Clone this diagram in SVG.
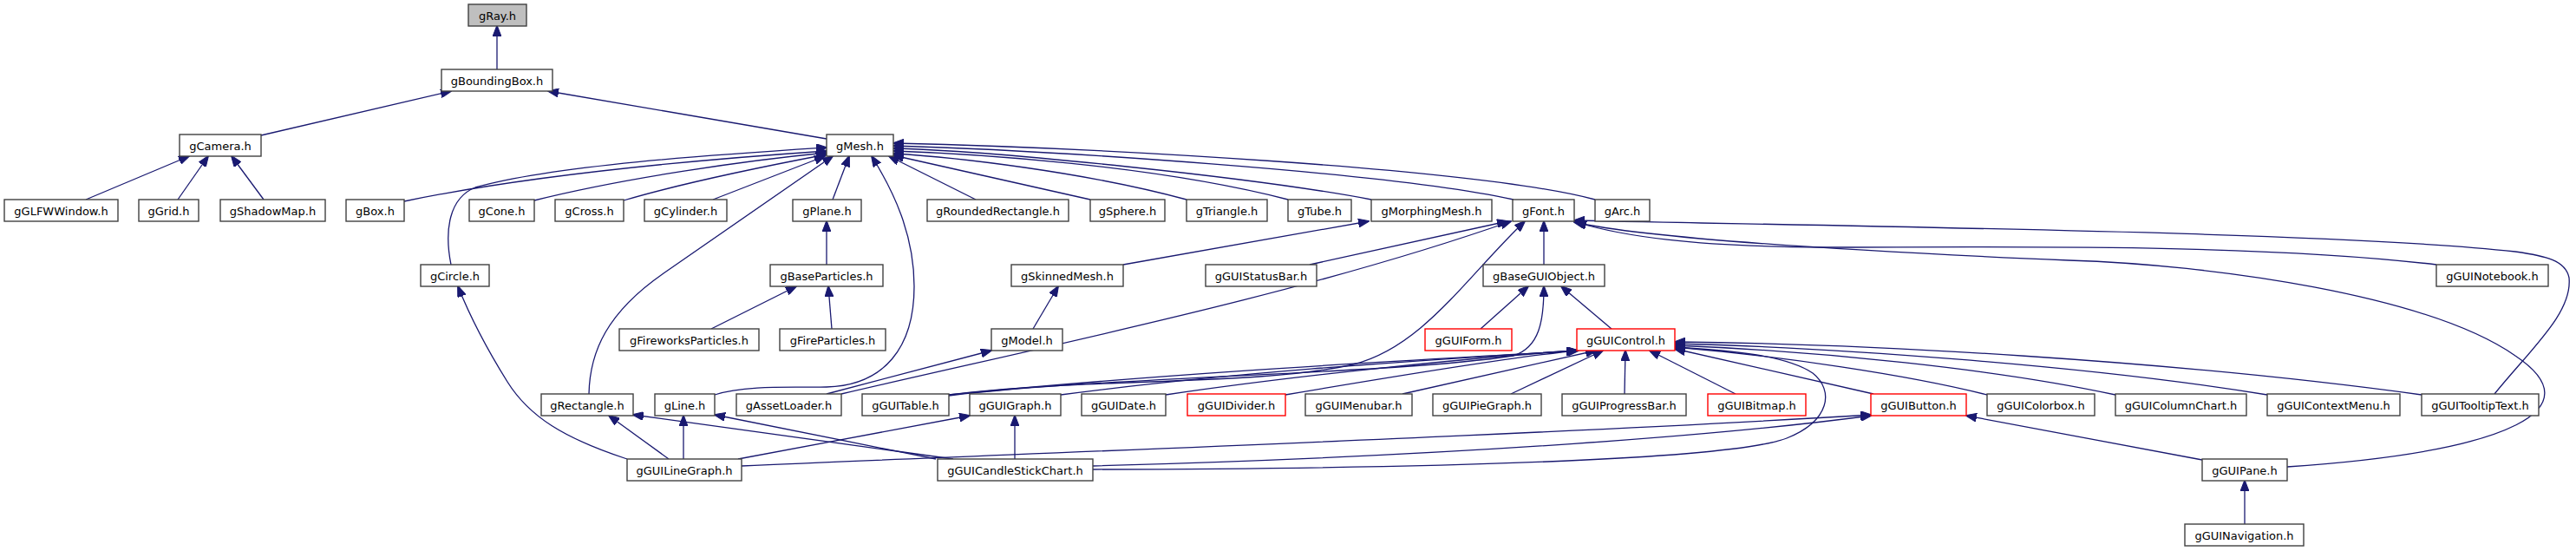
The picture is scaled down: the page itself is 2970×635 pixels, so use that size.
<svg xmlns="http://www.w3.org/2000/svg" width="2970" height="635" viewBox="0 0 2970 635">
<style>
.n rect{fill:#ffffff;stroke:#404040;stroke-width:1.4}
.n.r rect{stroke:#ff0000}
.n.root rect{fill:#bfbfbf}
.n text{font-family:"DejaVu Sans","Liberation Sans",sans-serif;font-size:13px;text-anchor:middle;fill:#000}
#edges path{fill:none;stroke:#191970;stroke-width:1.3;marker-end:url(#ah)}
</style>
<defs>
<marker id="ah" markerWidth="13" markerHeight="10" refX="12" refY="5" orient="auto" markerUnits="userSpaceOnUse">
<path d="M0,0 L13,5 L0,10 z" fill="#191970" stroke="#191970" stroke-width="1"/>
</marker>
</defs>
<rect width="2970" height="635" fill="#ffffff"/>
<g id="edges">
<path d="M573,80 L573,30"/>
<path d="M301,156 L520,105"/>
<path d="M953,160 L632,105"/>
<path d="M99,230 L218,180"/>
<path d="M205,230 L240,180"/>
<path d="M304,230 L267,180"/>
<path d="M466,232 C620,200 820,183 953,174"/>
<path d="M520,305 C512,265 518,228 548,216 C640,190 830,178 953,170"/>
<path d="M616,231 C720,205 860,185 953,176"/>
<path d="M719,231 C790,210 890,190 953,178"/>
<path d="M822,230 L951,180"/>
<path d="M679,454 C680,405 700,360 765,315 L960,180"/>
<path d="M960,230 L979,180"/>
<path d="M824,455 C860,443 920,447 953,446 C1020,444 1054,400 1054,330 C1054,270 1030,220 1005,180"/>
<path d="M1125,230 L1025,180"/>
<path d="M1257,230 L1030,179"/>
<path d="M1368,230 C1250,198 1100,181 1030,177"/>
<path d="M1485,230 C1330,190 1120,177 1030,174"/>
<path d="M1581,230 C1450,205 1150,174 1030,171"/>
<path d="M1745,230 C1600,198 1200,173 1030,168"/>
<path d="M1839,230 C1700,193 1250,170 1030,165"/>
<path d="M953,305 L953,255"/>
<path d="M1295,305 L1578,255"/>
<path d="M1510,305 L1738,255"/>
<path d="M1780,305 L1780,255"/>
<path d="M2809,305 C2600,280 2300,285 2100,285 C1950,284 1870,272 1817,256"/>
<path d="M820,379 L918,330"/>
<path d="M959,379 L955,330"/>
<path d="M1191,379 L1220,330"/>
<path d="M1707,379 L1762,330"/>
<path d="M1858,379 L1800,330"/>
<path d="M953,454 L1143,404"/>
<path d="M970,454 C1200,400 1500,340 1742,255"/>
<path d="M1094,455 C1250,435 1450,445 1560,420 C1640,400 1690,320 1758,255"/>
<path d="M1094,456 C1300,432 1600,432 1745,410 C1775,400 1780,370 1780,330"/>
<path d="M1094,455 C1400,425 1700,412 1818,404"/>
<path d="M1223,455 C1450,425 1700,412 1818,404"/>
<path d="M1344,455 C1500,432 1700,412 1818,404"/>
<path d="M1482,455 C1600,435 1750,410 1820,404"/>
<path d="M1617,454 L1840,404"/>
<path d="M1742,454 L1848,404"/>
<path d="M1873,454 L1874,404"/>
<path d="M2001,454 L1902,404"/>
<path d="M2160,454 L1931,402"/>
<path d="M2291,455 C2200,432 2050,410 1931,400"/>
<path d="M2439,455 C2300,425 2100,405 1931,398"/>
<path d="M2614,455 C2400,420 2100,400 1931,396"/>
<path d="M2792,455 C2500,415 2150,396 1931,394"/>
<path d="M2876,454 C2920,400 2966,360 2962,320 C2958,300 2935,295 2900,290 C2700,268 2200,262 1815,254"/>
<path d="M771,529 L702,479"/>
<path d="M788,529 L788,479"/>
<path d="M851,529 L1118,479"/>
<path d="M723,529 C650,505 610,480 585,440 C560,400 540,360 528,330"/>
<path d="M855,537 C1200,522 1800,500 2157,478"/>
<path d="M1099,529 L730,478"/>
<path d="M1079,529 L824,478"/>
<path d="M1170,529 L1170,479"/>
<path d="M1260,537 C1700,525 2000,500 2157,479"/>
<path d="M1260,541 C1700,540 2000,528 2060,505 C2110,485 2115,450 2090,430 C2060,410 2000,404 1931,400"/>
<path d="M2539,530 L2267,479"/>
<path d="M2637,538 C2900,520 2990,470 2900,410 C2800,340 2550,305 2385,300 C2150,290 1900,275 1815,256"/>
<path d="M2588,604 L2588,554"/>
</g>
<g id="gRay" class="n root"><rect x="540" y="5" width="67" height="25"/><text x="573.5" y="22.5">gRay.h</text></g>
<g id="gBoundingBox" class="n"><rect x="509" y="80" width="128" height="25"/><text x="573" y="97.5">gBoundingBox.h</text></g>
<g id="gCamera" class="n"><rect x="207" y="155" width="94" height="25"/><text x="254" y="172.5">gCamera.h</text></g>
<g id="gMesh" class="n"><rect x="953" y="155" width="77" height="25"/><text x="991.5" y="172.5">gMesh.h</text></g>
<g id="gGLFWWindow" class="n"><rect x="5" y="230" width="131" height="25"/><text x="70.5" y="247.5">gGLFWWindow.h</text></g>
<g id="gGrid" class="n"><rect x="160" y="230" width="69" height="25"/><text x="194.5" y="247.5">gGrid.h</text></g>
<g id="gShadowMap" class="n"><rect x="254" y="230" width="121" height="25"/><text x="314.5" y="247.5">gShadowMap.h</text></g>
<g id="gBox" class="n"><rect x="399" y="230" width="67" height="25"/><text x="432.5" y="247.5">gBox.h</text></g>
<g id="gCone" class="n"><rect x="541" y="230" width="75" height="25"/><text x="578.5" y="247.5">gCone.h</text></g>
<g id="gCross" class="n"><rect x="640" y="230" width="79" height="25"/><text x="679.5" y="247.5">gCross.h</text></g>
<g id="gCylinder" class="n"><rect x="743" y="230" width="95" height="25"/><text x="790.5" y="247.5">gCylinder.h</text></g>
<g id="gPlane" class="n"><rect x="914" y="230" width="79" height="25"/><text x="953.5" y="247.5">gPlane.h</text></g>
<g id="gRoundedRectangle" class="n"><rect x="1069" y="230" width="163" height="25"/><text x="1150.5" y="247.5">gRoundedRectangle.h</text></g>
<g id="gSphere" class="n"><rect x="1257" y="230" width="86" height="25"/><text x="1300" y="247.5">gSphere.h</text></g>
<g id="gTriangle" class="n"><rect x="1368" y="230" width="93" height="25"/><text x="1414.5" y="247.5">gTriangle.h</text></g>
<g id="gTube" class="n"><rect x="1485" y="230" width="73" height="25"/><text x="1521.5" y="247.5">gTube.h</text></g>
<g id="gMorphingMesh" class="n"><rect x="1581" y="230" width="139" height="25"/><text x="1650.5" y="247.5">gMorphingMesh.h</text></g>
<g id="gFont" class="n"><rect x="1744" y="230" width="71" height="25"/><text x="1779.5" y="247.5">gFont.h</text></g>
<g id="gArc" class="n"><rect x="1839" y="230" width="63" height="25"/><text x="1870.5" y="247.5">gArc.h</text></g>
<g id="gCircle" class="n"><rect x="485" y="305" width="79" height="25"/><text x="524.5" y="322.5">gCircle.h</text></g>
<g id="gBaseParticles" class="n"><rect x="888" y="305" width="130" height="25"/><text x="953" y="322.5">gBaseParticles.h</text></g>
<g id="gSkinnedMesh" class="n"><rect x="1166" y="305" width="129" height="25"/><text x="1230.5" y="322.5">gSkinnedMesh.h</text></g>
<g id="gGUIStatusBar" class="n"><rect x="1390" y="305" width="128" height="25"/><text x="1454" y="322.5">gGUIStatusBar.h</text></g>
<g id="gBaseGUIObject" class="n"><rect x="1710" y="305" width="140" height="25"/><text x="1780" y="322.5">gBaseGUIObject.h</text></g>
<g id="gGUINotebook" class="n"><rect x="2809" y="305" width="129" height="25"/><text x="2873.5" y="322.5">gGUINotebook.h</text></g>
<g id="gFireworksParticles" class="n"><rect x="714" y="379" width="161" height="25"/><text x="794.5" y="396.5">gFireworksParticles.h</text></g>
<g id="gFireParticles" class="n"><rect x="899" y="379" width="122" height="25"/><text x="960" y="396.5">gFireParticles.h</text></g>
<g id="gModel" class="n"><rect x="1143" y="379" width="82" height="25"/><text x="1184" y="396.5">gModel.h</text></g>
<g id="gGUIForm" class="n r"><rect x="1643" y="379" width="100" height="25"/><text x="1693" y="396.5">gGUIForm.h</text></g>
<g id="gGUIControl" class="n r"><rect x="1818" y="379" width="113" height="25"/><text x="1874.5" y="396.5">gGUIControl.h</text></g>
<g id="gRectangle" class="n"><rect x="624" y="454" width="106" height="25"/><text x="677" y="471.5">gRectangle.h</text></g>
<g id="gLine" class="n"><rect x="755" y="454" width="69" height="25"/><text x="789.5" y="471.5">gLine.h</text></g>
<g id="gAssetLoader" class="n"><rect x="849" y="454" width="121" height="25"/><text x="909.5" y="471.5">gAssetLoader.h</text></g>
<g id="gGUITable" class="n"><rect x="994" y="454" width="100" height="25"/><text x="1044" y="471.5">gGUITable.h</text></g>
<g id="gGUIGraph" class="n"><rect x="1118" y="454" width="105" height="25"/><text x="1170.5" y="471.5">gGUIGraph.h</text></g>
<g id="gGUIDate" class="n"><rect x="1247" y="454" width="97" height="25"/><text x="1295.5" y="471.5">gGUIDate.h</text></g>
<g id="gGUIDivider" class="n r"><rect x="1369" y="454" width="113" height="25"/><text x="1425.5" y="471.5">gGUIDivider.h</text></g>
<g id="gGUIMenubar" class="n"><rect x="1505" y="454" width="123" height="25"/><text x="1566.5" y="471.5">gGUIMenubar.h</text></g>
<g id="gGUIPieGraph" class="n"><rect x="1652" y="454" width="125" height="25"/><text x="1714.5" y="471.5">gGUIPieGraph.h</text></g>
<g id="gGUIProgressBar" class="n"><rect x="1801" y="454" width="143" height="25"/><text x="1872.5" y="471.5">gGUIProgressBar.h</text></g>
<g id="gGUIBitmap" class="n r"><rect x="1969" y="454" width="113" height="25"/><text x="2025.5" y="471.5">gGUIBitmap.h</text></g>
<g id="gGUIButton" class="n r"><rect x="2157" y="454" width="110" height="25"/><text x="2212" y="471.5">gGUIButton.h</text></g>
<g id="gGUIColorbox" class="n"><rect x="2291" y="454" width="124" height="25"/><text x="2353" y="471.5">gGUIColorbox.h</text></g>
<g id="gGUIColumnChart" class="n"><rect x="2439" y="454" width="151" height="25"/><text x="2514.5" y="471.5">gGUIColumnChart.h</text></g>
<g id="gGUIContextMenu" class="n"><rect x="2614" y="454" width="153" height="25"/><text x="2690.5" y="471.5">gGUIContextMenu.h</text></g>
<g id="gGUITooltipText" class="n"><rect x="2792" y="454" width="135" height="25"/><text x="2859.5" y="471.5">gGUITooltipText.h</text></g>
<g id="gGUILineGraph" class="n"><rect x="723" y="529" width="132" height="25"/><text x="789" y="546.5">gGUILineGraph.h</text></g>
<g id="gGUICandleStickChart" class="n"><rect x="1081" y="529" width="179" height="25"/><text x="1170.5" y="546.5">gGUICandleStickChart.h</text></g>
<g id="gGUIPane" class="n"><rect x="2539" y="529" width="98" height="25"/><text x="2588" y="546.5">gGUIPane.h</text></g>
<g id="gGUINavigation" class="n"><rect x="2519" y="604" width="137" height="25"/><text x="2587.5" y="621.5">gGUINavigation.h</text></g>
</svg>
